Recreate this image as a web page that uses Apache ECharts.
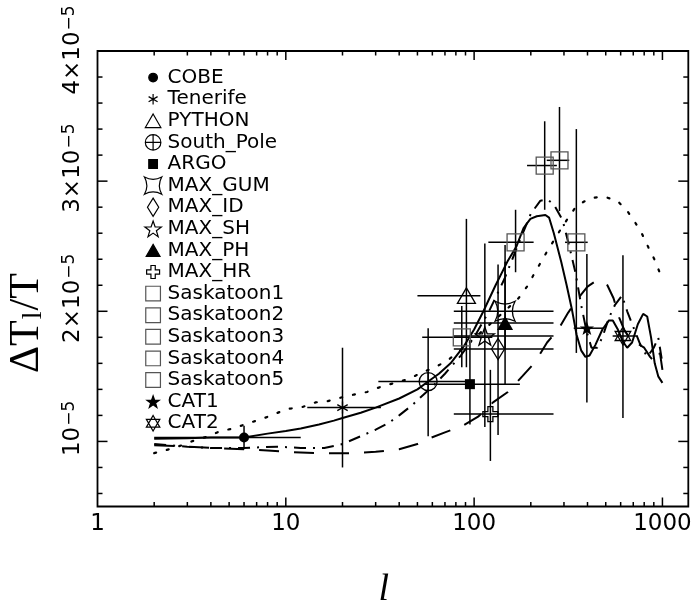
<!DOCTYPE html>
<html>
<head>
<meta charset="utf-8">
<script src="https://cdn.jsdelivr.net/npm/echarts@6/dist/echarts.min.js"></script>
<style>
html, body { margin: 0; padding: 0; background: #fff; }
#chart { width: 693px; height: 602px; }
</style>
</head>
<body>
<div id="chart"></div>
<script>
// experiments: multipole l (with range) and dT/T in units of 1e-5 (with range)
var names  = ['COBE', 'Tenerife', 'PYTHON', 'South_Pole', 'ARGO', 'MAX_GUM', 'MAX_ID', 'MAX_SH', 'MAX_PH', 'MAX_HR',
              'Saskatoon1', 'Saskatoon2', 'Saskatoon3', 'Saskatoon4', 'Saskatoon5', 'CAT1', 'CAT2'];
var ell    = [6,    20,   91,   57,   95,   146,  134,  114,  146,  122,  86,   166,  237,  284,  349,  397,  617];
var ellLo  = [2,    13,   50,   31,   55,   78,   78,   78,   78,   78,   53,   119,  191,  243,  304,  338,  544];
var ellHi  = [12,   32,   108,  100,  175,  264,  264,  264,  264,  264,  125,  207,  275,  320,  401,  490,  730];
var dT     = [1.03, 1.26, 2.12, 1.46, 1.44, 2.00, 1.71, 1.81, 1.91, 1.21, 1.80, 2.53, 3.12, 3.16, 2.53, 1.87, 1.81];
var dTLo   = [0.94, 0.80, 1.57, 1.04, 1.13, 1.71, 1.05, 1.11, 1.44, 0.85, 1.57, 2.30, 2.78, 2.77, 1.68, 1.30, 1.18];
var dTHi   = [1.12, 1.72, 2.71, 1.87, 1.78, 2.51, 2.36, 2.52, 2.38, 1.55, 2.04, 2.78, 3.46, 3.57, 3.40, 2.44, 2.43];

// model curves
var solidL = [2, 3, 4, 6, 8, 10, 12, 15, 18, 20, 25, 30, 40, 50, 57, 65, 75, 88, 100, 112, 130, 150, 168, 183, 199, 215, 239,
              250, 265, 290, 310, 330, 350, 370, 390, 410, 440, 480, 520, 545, 580, 615, 650, 690, 740, 790, 830, 870, 910, 950, 1000];
var solidV = [1.02, 1.025, 1.03, 1.03, 1.06, 1.08, 1.1, 1.13, 1.16, 1.18, 1.22, 1.26, 1.33, 1.4, 1.46, 1.52, 1.6, 1.73, 1.86, 2.0,
              2.2, 2.38, 2.5, 2.64, 2.71, 2.73, 2.74, 2.72, 2.6, 2.38, 2.2, 2.02, 1.82, 1.7, 1.65, 1.66, 1.74, 1.86, 1.93, 1.93,
              1.86, 1.77, 1.72, 1.76, 1.9, 1.98, 1.96, 1.8, 1.6, 1.5, 1.45];
var dotL = [2, 2.4, 2.8, 3.3, 3.9, 4.5, 5.3, 6.3, 7.4, 8.7, 10.2, 12, 14.4, 16.7, 20, 23, 27, 32, 38, 45, 53, 62, 72, 88, 105,
            128, 150, 172, 191, 207, 244, 294, 320, 350, 414, 491, 575, 651, 718, 782, 843, 906, 966, 1000];
var dotV = [0.91, 0.94, 0.97, 1.01, 1.04, 1.08, 1.1, 1.14, 1.17, 1.21, 1.25, 1.26, 1.3, 1.31, 1.34, 1.36, 1.38, 1.42, 1.45, 1.48,
            1.53, 1.57, 1.62, 1.72, 1.82, 1.93, 2.02, 2.1, 2.19, 2.28, 2.46, 2.65, 2.73, 2.81, 2.87, 2.88, 2.85, 2.77, 2.68,
            2.59, 2.49, 2.4, 2.3, 2.26];
var dashDotL = [2, 3, 4, 6, 9, 12, 16, 20, 25, 30, 35, 40, 47, 52, 60, 70, 85, 100, 120, 145, 170, 200, 225, 245, 265, 295,
                320, 345, 370, 395, 420, 450, 480, 520, 560, 610, 650, 700, 760, 830, 900, 950, 1000];
var dashDotV = [0.98, 0.96, 0.95, 0.95, 0.96, 0.95, 0.95, 0.98, 1.04, 1.09, 1.14, 1.2, 1.28, 1.34, 1.42, 1.52, 1.66, 1.8, 2.0,
                2.25, 2.5, 2.75, 2.85, 2.86, 2.82, 2.7, 2.5, 2.3, 2.05, 1.85, 1.72, 1.72, 1.8, 1.95, 2.05, 2.12, 2.0, 1.88,
                1.75, 1.65, 1.72, 1.8, 1.6];
var dashL = [2, 3, 4, 6, 8, 10, 15, 22, 30, 40, 50, 57, 70, 87, 105, 126, 151, 180, 211, 244, 280, 316, 352, 400, 440, 470,
             510, 550, 590, 630, 680, 740, 800, 860, 920, 970, 1000];
var dashV = [0.97, 0.96, 0.95, 0.94, 0.93, 0.92, 0.91, 0.91, 0.92, 0.94, 0.98, 1.02, 1.07, 1.12, 1.19, 1.3, 1.38, 1.5, 1.61,
             1.76, 1.86, 1.99, 2.09, 2.19, 2.23, 2.24, 2.2, 2.1, 1.95, 1.85, 1.78, 1.75, 1.72, 1.65, 1.6, 1.68, 1.55];

// axes
var X_MIN = 1, X_MAX = 1372, Y_MIN = 0.5, Y_MAX = 4;
var xMajor = [1, 10, 100, 1000];
var xMinor = [2, 3, 4, 5, 6, 7, 8, 9, 20, 30, 40, 50, 60, 70, 80, 90, 200, 300, 400, 500, 600, 700, 800, 900];
var yMajor = [1, 2, 3, 4];
var yMinor = [0.6, 0.8, 1.2, 1.4, 1.6, 1.8, 2.2, 2.4, 2.6, 2.8, 3.2, 3.4, 3.6, 3.8];

// symbols, drawn in a 22x22 box
var BOX = 22;
function circle(cx, cy, r) {
  return 'M' + (cx - r) + ' ' + cy + 'A' + r + ' ' + r + ' 0 1 1 ' + (cx + r) + ' ' + cy +
         'A' + r + ' ' + r + ' 0 1 1 ' + (cx - r) + ' ' + cy + 'Z';
}
function starPath(cx, cy, n, ro, ri) {
  var s = '';
  for (var i = 0; i < 2 * n; i++) {
    var r = i % 2 ? ri : ro, a = -Math.PI / 2 + i * Math.PI / n;
    s += (i ? 'L' : 'M') + (cx + r * Math.cos(a)).toFixed(2) + ' ' + (cy + r * Math.sin(a)).toFixed(2);
  }
  return s + 'Z';
}
function sym(p) { return 'path://M0 0M' + BOX + ' ' + BOX + p; }
var square = 'M2.5 2.5H19.5V19.5H2.5Z';
var shapes = {
  COBE: circle(11, 11, 5),
  Tenerife: 'M11 5L11 17M5.8 8L16.2 14M5.8 14L16.2 8',
  PYTHON: 'M11 3.2L20 18.8L2 18.8Z',
  South_Pole: circle(11, 11, 9) + 'M2 11L20 11M11 2L11 20',
  ARGO: 'M6 6H16V16H6Z',
  MAX_GUM: 'M1 1Q11 6.5 21 1Q15.5 11 21 21Q11 15.5 1 21Q6.5 11 1 1Z',
  MAX_ID: 'M11 0.5L17.5 11L11 21.5L4.5 11Z',
  MAX_SH: starPath(11, 12, 5, 10, 4),
  MAX_PH: 'M11 4L19 18L3 18Z',
  MAX_HR: 'M8.5 3.5H13.5V8.5H18.5V13.5H13.5V18.5H8.5V13.5H3.5V8.5H8.5Z',
  Saskatoon1: square, Saskatoon2: square, Saskatoon3: square, Saskatoon4: square, Saskatoon5: square,
  CAT1: starPath(11, 11.7, 5, 7.5, 3),
  CAT2: 'M11 2L18.8 15.5L3.2 15.5ZM11 20L18.8 6.5L3.2 6.5Z'
};
var filled = ['COBE', 'ARGO', 'MAX_PH', 'CAT1'];

var myChart = echarts.init(document.getElementById('chart'));

function renderBar(params, api) {
  var l = api.value(0), v = api.value(1);
  var h0 = api.coord([api.value(2), v]), h1 = api.coord([api.value(3), v]);
  var v0 = api.coord([l, api.value(4)]), v1 = api.coord([l, api.value(5)]);
  var st = { stroke: '#000', lineWidth: 1.5 };
  return { type: 'group', children: [
    { type: 'line', shape: { x1: h0[0], y1: h0[1], x2: h1[0], y2: h1[1] }, style: st },
    { type: 'line', shape: { x1: v0[0], y1: v0[1], x2: v1[0], y2: v1[1] }, style: st }
  ] };
}
function renderTick(params, api) {
  var len = api.value(2), isY = api.value(3) === 1, a, b, st = { stroke: '#000', lineWidth: 1.5 };
  if (!isY) {
    a = api.coord([api.value(0), Y_MIN]); b = api.coord([api.value(0), Y_MAX]);
    return { type: 'group', children: [
      { type: 'line', shape: { x1: a[0], y1: a[1], x2: a[0], y2: a[1] - len }, style: st },
      { type: 'line', shape: { x1: b[0], y1: b[1], x2: b[0], y2: b[1] + len }, style: st }
    ] };
  }
  a = api.coord([X_MIN, api.value(1)]); b = api.coord([X_MAX, api.value(1)]);
  return { type: 'group', children: [
    { type: 'line', shape: { x1: a[0], y1: a[1], x2: a[0] + len, y2: a[1] }, style: st },
    { type: 'line', shape: { x1: b[0], y1: b[1], x2: b[0] - len, y2: b[1] }, style: st }
  ] };
}

var tickData = [];
xMajor.forEach(function (v) { if (v > X_MIN) tickData.push([v, Y_MIN, 9, 0]); });
xMinor.forEach(function (v) { tickData.push([v, Y_MIN, 4.5, 0]); });
yMajor.forEach(function (v) { if (v < Y_MAX) tickData.push([X_MIN, v, 10, 1]); });
yMinor.forEach(function (v) { tickData.push([X_MIN, v, 5, 1]); });

var barData = names.map(function (n, i) { return [ell[i], dT[i], ellLo[i], ellHi[i], dTLo[i], dTHi[i]]; });

function zip(a, b) { return a.map(function (x, i) { return [x, b[i]]; }); }

var series = [
  { type: 'line', data: zip(solidL, solidV), symbol: 'none', lineStyle: { color: '#000', width: 2 }, z: 2 },
  { type: 'line', data: zip(dotL, dotV), symbol: 'none', lineStyle: { color: '#000', width: 2.2, type: [2, 11], cap: 'round' }, z: 2 },
  { type: 'line', data: zip(dashDotL, dashDotV), symbol: 'none', lineStyle: { color: '#000', width: 2, type: [12, 7, 2, 7] }, z: 2 },
  { type: 'line', data: zip(dashL, dashV), symbol: 'none', lineStyle: { color: '#000', width: 2, type: [20, 15] }, z: 2 },
  { type: 'custom', renderItem: renderBar, data: barData, silent: true, z: 3 },
  { type: 'custom', renderItem: renderTick, data: tickData, silent: true, clip: false, z: 3 }
];
names.forEach(function (n, i) {
  var isFilled = filled.indexOf(n) >= 0;
  var gray = n.indexOf('Saskatoon') === 0;
  series.push({
    name: n, type: 'scatter', data: [[ell[i], dT[i]]],
    symbol: sym(shapes[n]), symbolSize: BOX, symbolKeepAspect: true,
    itemStyle: { color: isFilled ? '#000' : 'transparent', borderColor: gray ? '#555' : '#000', borderWidth: isFilled ? 0 : 1.3, opacity: 1 },
    z: 4
  });
});

var option = {
  animation: false,
  backgroundColor: '#fff',
  grid: {
    left: 97.5, right: 4.7, top: 51, bottom: 95.5, outerBoundsMode: 'none', containLabel: false,
    show: true, borderColor: '#000', borderWidth: 1.8, backgroundColor: 'transparent'
  },
  legend: {
    data: names, orient: 'vertical', left: 138, top: 62.5,
    itemWidth: 19, itemHeight: 19, itemGap: 1.4, selectedMode: false,
    itemStyle: { borderWidth: 1.2 },
    textStyle: { fontFamily: 'DejaVu Sans', fontSize: 20, color: '#000' }
  },
  xAxis: {
    type: 'log', min: X_MIN, max: X_MAX, logBase: 10,
    axisLine: { show: false }, axisTick: { show: false }, splitLine: { show: false },
    axisLabel: {
      color: '#000', fontFamily: 'DejaVu Sans', fontSize: 23, margin: 6,
      formatter: function (v) { var r = Math.round(v); return xMajor.indexOf(r) >= 0 ? String(r) : ''; }
    },
    name: 'l', nameLocation: 'middle', nameGap: 65,
    nameTextStyle: { fontFamily: 'Liberation Serif', fontStyle: 'italic', fontSize: 38, color: '#000', padding: [0, 18, 0, 0] }
  },
  yAxis: {
    type: 'value', min: Y_MIN, max: Y_MAX, interval: 0.5,
    axisLine: { show: false }, axisTick: { show: false }, splitLine: { show: false },
    axisLabel: {
      rotate: 90, margin: 13, padding: [0, 0, 0, 26],
      formatter: function (v) {
        if (yMajor.indexOf(v) < 0) return '';
        // the top label is pushed down so it stays inside the picture
        return (v === 1 ? '{b|10}' : '{b|' + v + '×10}') + '{s|−5}' + (v === Y_MAX ? '{g|}' : '');
      },
      rich: {
        b: { fontFamily: 'DejaVu Sans', fontSize: 23, color: '#000', verticalAlign: 'bottom', lineHeight: 23 },
        s: { fontFamily: 'DejaVu Sans', fontSize: 17, color: '#000', verticalAlign: 'top', lineHeight: 17, padding: [0, 0, 15, 1] },
        g: { width: 24, lineHeight: 10 }
      }
    }
  },
  graphic: [{
    type: 'text', x: 27, y: 323, rotation: Math.PI / 2,
    style: {
      text: '{m|ΔT}{u|l}{m|/T}', align: 'center', verticalAlign: 'middle',
      rich: {
        m: { fontFamily: 'Liberation Serif', fontSize: 42, fill: '#000', verticalAlign: 'top', lineHeight: 42 },
        u: { fontFamily: 'Liberation Serif', fontSize: 28, fill: '#000', verticalAlign: 'bottom', lineHeight: 28, padding: [24, 1, 0, 1] }
      }
    }
  }],
  series: series
};
myChart.setOption(option);
window.onresize = myChart.resize;
</script>
</body>
</html>
